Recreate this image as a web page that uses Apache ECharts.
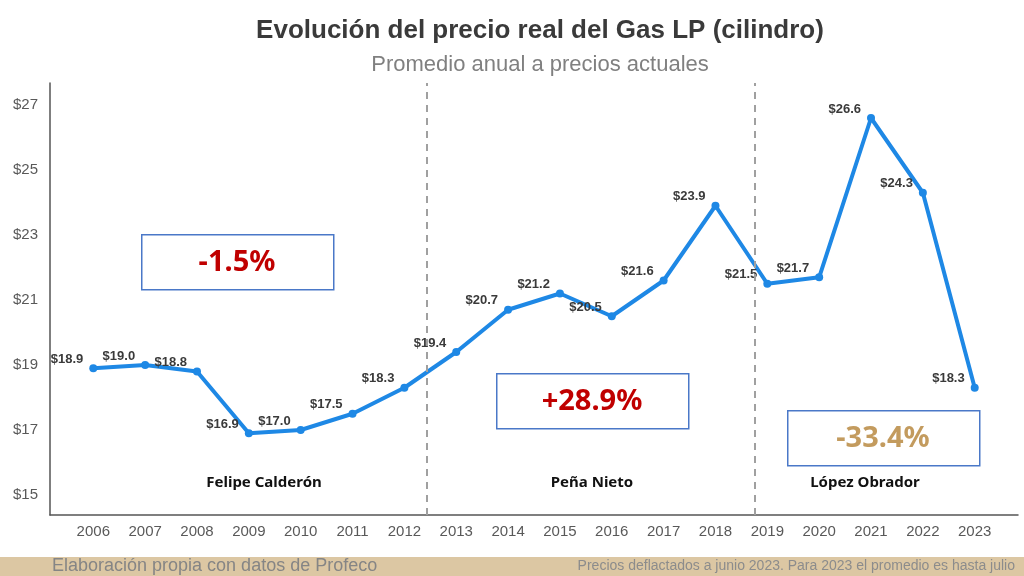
<!DOCTYPE html>
<html>
<head>
<meta charset="utf-8">
<script src="https://cdn.jsdelivr.net/npm/echarts@6/dist/echarts.min.js"></script>
<style>
  html, body { margin: 0; padding: 0; background: #fff; }
  #main { width: 1024px; height: 576px; }
</style>
</head>
<body>
<div id="main"></div>
<script>
// datos: precio real promedio anual del Gas LP (cilindro)
var years = [2006, 2007, 2008, 2009, 2010, 2011, 2012, 2013, 2014, 2015,
             2016, 2017, 2018, 2019, 2020, 2021, 2022, 2023];
var prices = [18.9, 19.0, 18.8, 16.9, 17.0, 17.5, 18.3, 19.4, 20.7, 21.2,
              20.5, 21.6, 23.9, 21.5, 21.7, 26.6, 24.3, 18.3];
var yTicks = [15, 17, 19, 21, 23, 25, 27];
// cambios de sexenio
var periodBreaks = [2012.44, 2018.75];
var periodNames = ['Felipe Calderón', 'Peña Nieto', 'López Obrador'];
var periodChange = ['-1.5%', '+28.9%', '-33.4%'];

var dom = document.getElementById('main');
var myChart = echarts.init(dom);

var seriesData = [];
for (var i = 0; i < years.length; i++) {
    seriesData.push([years[i], prices[i]]);
}

var boxes = [
    { x: 141, y: 234, color: '#c00000' },
    { x: 496, y: 373, color: '#c00000' },
    { x: 787, y: 410, color: '#c39b5e' }
];
var nameX = [264, 592, 865];

var graphics = [
    // franja inferior
    {
        type: 'rect', left: 0, top: 557, z: 0,
        shape: { width: 1024, height: 19 },
        style: { fill: '#dcc7a3' }
    },
    {
        type: 'text', left: 52, top: 557,
        style: {
            text: 'Elaboración propia con datos de Profeco',
            fill: '#858585',
            font: '18px "Liberation Sans Narrow", "Arial Narrow", sans-serif'
        }
    },
    {
        type: 'text', right: 9, top: 559,
        style: {
            text: 'Precios deflactados a junio 2023. Para 2023 el promedio es hasta julio',
            fill: '#8c8c8c',
            font: '14px "Liberation Sans Narrow", "Arial Narrow", sans-serif'
        }
    }
];

for (var j = 0; j < boxes.length; j++) {
    graphics.push({
        type: 'rect', left: boxes[j].x, top: boxes[j].y,
        shape: { width: 192, height: 55 },
        style: { fill: 'rgba(255,255,255,0.9)', stroke: '#4a78c8', lineWidth: 1.5 }
    });
    graphics.push({
        type: 'text', x: boxes[j].x + 96, y: boxes[j].y + 29,
        style: {
            text: periodChange[j],
            fill: boxes[j].color,
            font: 'bold 29px "Noto Sans", sans-serif',
            align: 'center', verticalAlign: 'middle'
        }
    });
    graphics.push({
        type: 'text', x: nameX[j], y: 483,
        style: {
            text: periodNames[j],
            fill: '#111',
            font: 'bold 15px "Noto Sans", sans-serif',
            align: 'center', verticalAlign: 'middle'
        }
    });
}

var option = {
    backgroundColor: '#fff',
    title: {
        text: 'Evolución del precio real del Gas LP (cilindro)',
        subtext: 'Promedio anual a precios actuales',
        left: 535,
        textAlign: 'center',
        top: 13,
        itemGap: 10,
        textStyle: {
            color: '#3a3a3a',
            fontSize: 26,
            fontWeight: 'bold',
            fontFamily: 'Liberation Sans, Arial, sans-serif'
        },
        subtextStyle: {
            color: '#808080',
            fontSize: 22,
            fontFamily: 'Liberation Sans, Arial, sans-serif'
        }
    },
    grid: { left: 50, right: 6, top: 83, bottom: 61 },
    xAxis: {
        type: 'value',
        min: 2005.165,
        max: 2023.835,
        axisLine: { lineStyle: { color: '#555', width: 1.5 } },
        axisTick: { show: false },
        splitLine: { show: false },
        axisLabel: {
            customValues: years,
            color: '#595959',
            fontSize: 15,
            margin: 9,
            fontFamily: 'Liberation Sans, Arial, sans-serif',
            formatter: function (v) { return String(v); }
        }
    },
    yAxis: {
        type: 'value',
        min: 14.385,
        max: 27.677,
        axisLine: { show: true, lineStyle: { color: '#555', width: 1.5 } },
        axisTick: { show: false },
        splitLine: { show: false },
        axisLabel: {
            customValues: yTicks,
            color: '#595959',
            fontSize: 15,
            margin: 12,
            fontFamily: 'Liberation Sans, Arial, sans-serif',
            formatter: function (v) { return '$' + v; }
        }
    },
    graphic: graphics,
    series: [
        {
            type: 'line',
            data: seriesData,
            symbol: 'circle',
            symbolSize: 8,
            lineStyle: { color: '#1e88e5', width: 4 },
            itemStyle: { color: '#1e88e5' },
            label: {
                show: true,
                position: 'left',
                distance: 6,
                offset: [0, -9],
                color: '#3a3a3a',
                fontSize: 13,
                fontWeight: 'bold',
                fontFamily: 'Liberation Sans, Arial, sans-serif',
                formatter: function (p) { return '$' + p.value[1].toFixed(1); }
            },
            markLine: {
                silent: true,
                symbol: 'none',
                label: { show: false },
                lineStyle: { color: '#a0a0a0', type: [7, 6], width: 2 },
                data: periodBreaks.map(function (b) { return { xAxis: b }; })
            },
            z: 3
        }
    ]
};

myChart.setOption(option, true);
</script>
</body>
</html>
